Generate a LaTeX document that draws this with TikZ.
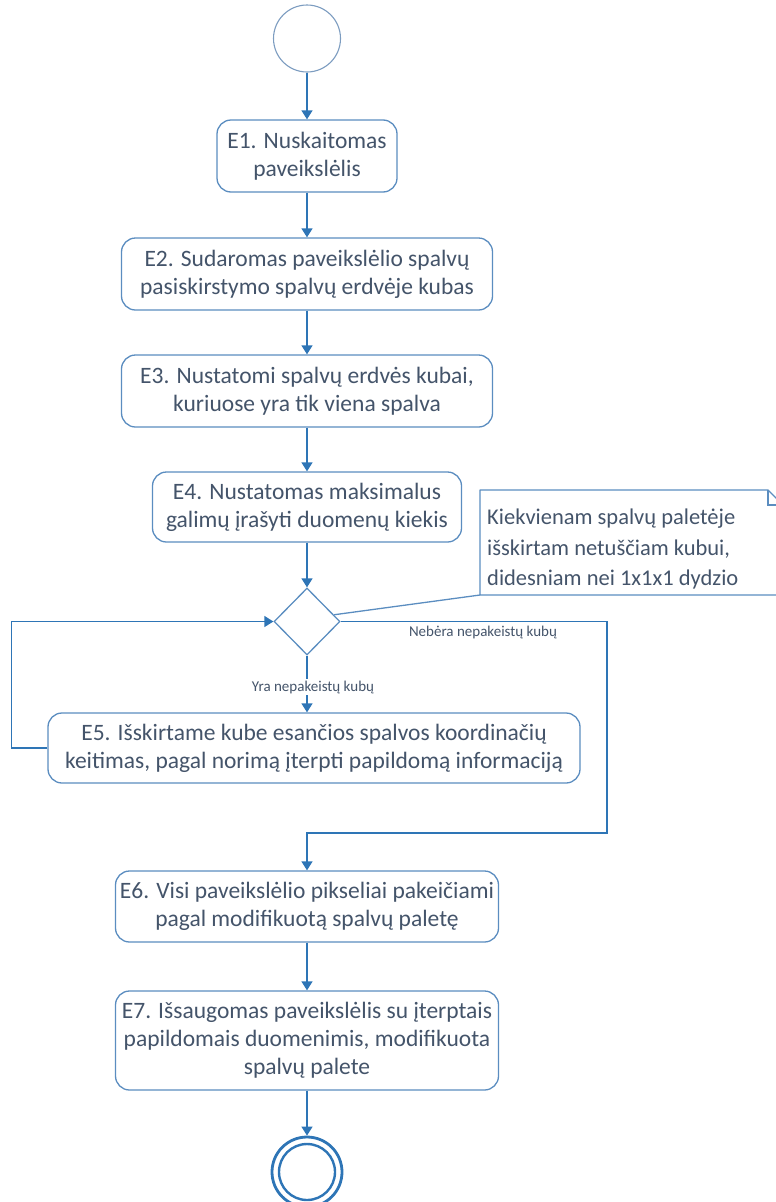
\documentclass[tikz,border=0pt]{standalone}
\usepackage{fontspec}
\setmainfont{Carlito}
\usetikzlibrary{shapes.geometric,arrows.meta,calc}
\definecolor{flow}{HTML}{2E75B6}
\definecolor{boxline}{HTML}{5B8DC0}
\definecolor{startline}{HTML}{7C9CC0}
\definecolor{ink}{HTML}{44546A}
\begin{document}
\begin{tikzpicture}[x=1pt,y=-1pt,
  stepbox/.style={draw=boxline, line width=1.3pt, rounded corners=14pt, fill=white,
    align=center, text=ink, font=\fontsize{23.5}{28}\selectfont, inner sep=0pt},
  flowline/.style={draw=flow, line width=1.3pt},
  arr/.style={flowline, -{Triangle[width=11pt,length=9pt]}},
  guard/.style={text=ink, fill=white, font=\fontsize{15}{16}\selectfont, inner sep=1.5pt},
  notebox/.style={align=left, text=ink, font=\fontsize{22.5}{30.5}\selectfont, inner sep=0pt}
]
\useasboundingbox (0,0) rectangle (776,1202);

% initial and final states
\node[circle, draw=startline, line width=1.1pt, minimum size=67pt, inner sep=0pt] (start) at (307,38.5) {};
\node[circle, draw=flow, line width=2.8pt, minimum size=70pt, inner sep=0pt] (stop) at (307,1172) {};
\node[circle, draw=flow, line width=2.4pt, minimum size=56pt, inner sep=0pt] (stopin) at (307,1172) {};

% activities
\node[stepbox, minimum width=180pt, minimum height=72pt] (e1) at (307,156) {E1. Nuskaitomas\\paveikslėlis};
\node[stepbox, minimum width=371pt, minimum height=72pt] (e2) at (307,274) {E2. Sudaromas paveikslėlio spalvų\\pasiskirstymo spalvų erdvėje kubas};
\node[stepbox, minimum width=371pt, minimum height=72pt] (e3) at (307,391) {E3. Nustatomi spalvų erdvės kubai,\\kuriuose yra tik viena spalva};
\node[stepbox, minimum width=309pt, minimum height=70pt] (e4) at (307,507) {E4. Nustatomas maksimalus\\galimų įrašyti duomenų kiekis};
\node[diamond, draw=boxline, line width=1.3pt, minimum width=66pt, minimum height=67pt, inner sep=0pt] (dec) at (307,621.5) {};
\node[stepbox, minimum width=532pt, minimum height=70pt] (e5) at (314,748) {E5. Išskirtame kube esančios spalvos koordinačių\\keitimas, pagal norimą įterpti papildomą informaciją};
\node[stepbox, minimum width=383pt, minimum height=71pt] (e6) at (307,906.5) {E6. Visi paveikslėlio pikseliai pakeičiami\\pagal modifikuotą spalvų paletę};
\node[stepbox, minimum width=383pt, minimum height=99pt] (e7) at (307,1040.5) {E7. Išsaugomas paveikslėlis su įterptais\\papildomais duomenimis, modifikuota\\spalvų palete};

% comment note with folded corner (its right edge runs past the page)
\coordinate (nnw) at (480,490);
\coordinate (nsw) at (480,595);
\coordinate (fold) at (768,490);
\coordinate (foldb) at (783,505);
\coordinate (nse) at (783,595);
\node[notebox, anchor=west] (note) at (487,549) {Kiekvienam spalvų paletėje\\išskirtam netuščiam kubui,\\didesniam nei 1x1x1 dydzio};
\draw[boxline, line width=1.3pt, line join=round]
  (nnw) -- (fold) -- (foldb) -- (nse) -- (nsw) -- cycle;
\draw[boxline, line width=1.1pt] (fold) -- (fold |- foldb) -- (foldb);
\draw[boxline, line width=1.3pt] (dec.14) -- (nsw);

% guard labels
\node[guard, fill=none] (lno) at (483,632) {Nebėra nepakeistų kubų};

% control flow
\coordinate (bend) at (607,833);
\draw[arr] (start) -- (e1);
\draw[arr] (e1) -- (e2);
\draw[arr] (e2) -- (e3);
\draw[arr] (e3) -- (e4);
\draw[arr] (e4) -- (dec);
\draw[arr] (dec.south) -- (dec.south |- e5.north);
\node[guard] (lyes) at (313,687) {Yra nepakeistų kubų};
\draw[arr] (e5.west) -- ++(-36,0) |- (dec.west);
\draw[arr] (dec.east) -| (bend) -| (e6.north);
\draw[arr] (e6) -- (e7);
\draw[arr] (e7) -- (stop);
\end{tikzpicture}
\end{document}
